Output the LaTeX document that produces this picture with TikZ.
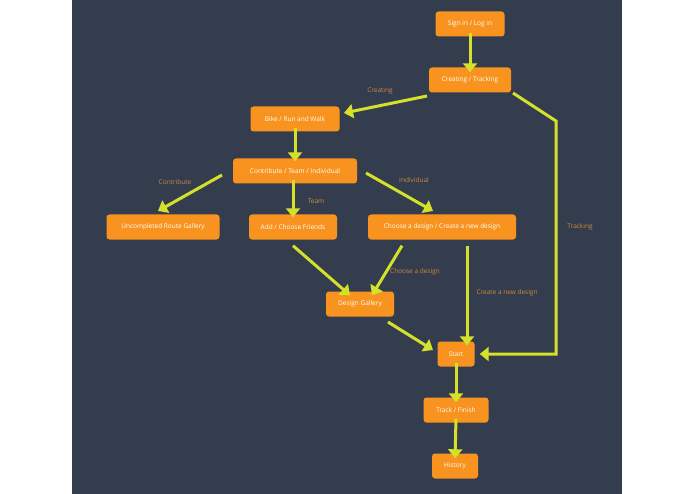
\documentclass[tikz,border=0pt]{standalone}
\usepackage{fontspec}
\setmainfont{Open Sans}
\usetikzlibrary{arrows.meta}
\definecolor{bg}{HTML}{333D4E}
\definecolor{box}{HTML}{F7931E}
\definecolor{arr}{HTML}{D4E02A}
\definecolor{lab}{HTML}{D08A3C}
\begin{document}
\begin{tikzpicture}[x=1pt,y=-1pt,
  nd/.style={fill=box,rounded corners=3pt,text=white,font=\fontsize{6.5}{8}\selectfont,minimum height=25pt,inner sep=0pt},
  ar/.style={draw=arr,line width=3pt,-{Triangle[length=9pt,width=14pt]}},
  lb/.style={text=lab,font=\fontsize{6.5}{8}\selectfont}]
\useasboundingbox (0,0) rectangle (695,494);
\fill[white] (0,0) rectangle (695,494);
\fill[bg] (72,0) rectangle (622,494);
\node[nd,minimum width=69pt] (sign) at (470,24) {Sign in / Log in};
\node[nd,minimum width=82pt] (ct) at (470,80) {Creating / Tracking};
\node[nd,minimum width=89pt] (bike) at (295,119) {Bike / Run and Walk};
\node[nd,minimum width=124pt] (cont) at (295,171) {Contribute / Team / Individual};
\node[nd,minimum width=113pt] (unc) at (163,227) {Uncompleted Route Gallery};
\node[nd,minimum width=88pt] (add) at (293,227) {Add / Choose Friends};
\node[nd,minimum width=148pt] (cho) at (442,227) {Choose a design / Create a new design};
\node[nd,minimum width=68pt] (gal) at (360,304) {Design Gallery};
\node[nd,minimum width=37pt] (start) at (456,354) {Start};
\node[nd,minimum width=65pt] (track) at (456,410) {Track / Finish};
\node[nd,minimum width=46pt] (hist) at (455,466) {History};
\coordinate (c1) at (556,121);
\coordinate (c2) at (556,354);
\draw[ar] ([yshift=4pt]sign.south) -- ([yshift=-5pt]ct.north);
\draw[ar] (427,96) -- (344,113);
\draw[ar] ([yshift=4pt]bike.south) -- ([yshift=-3pt]cont.north);
\draw[ar] (222,175) -- (158,211);
\draw[ar] ([xshift=-2pt,yshift=4pt]cont.south) -- ([yshift=-3pt]add.north);
\draw[ar] (366,173) -- (433,211);
\draw[ar] ([yshift=-6pt]add.south) -- ([xshift=-10pt,yshift=-4pt]gal.north);
\draw[ar] ([xshift=-40pt,yshift=-6pt]cho.south) -- ([xshift=12pt,yshift=-4pt]gal.north);
\draw[ar] ([xshift=25pt,yshift=-6pt]cho.south) -- ([xshift=11pt,yshift=-4pt]start.north);
\draw[ar] (388,322) -- (433,350);
\draw[ar] (513,93) -- (c1) -- (c2) -- ([xshift=5pt]start.east);
\draw[ar] ([yshift=4pt]start.south) -- ([yshift=-5pt]track.north);
\draw[ar] ([yshift=4pt]track.south) -- ([yshift=-5pt]hist.north);
\node[lb] (l1) at (380,91) {Creating};
\node[lb] (l2) at (175,182) {Contribute};
\node[lb] (l3) at (316,201) {Team};
\node[lb] (l4) at (414,180) {Individual};
\node[lb] (l5) at (415,272) {Choose a design};
\node[lb] (l6) at (507,293) {Create a new design};
\node[lb] (l7) at (580,227) {Tracking};
\end{tikzpicture}
\end{document}
